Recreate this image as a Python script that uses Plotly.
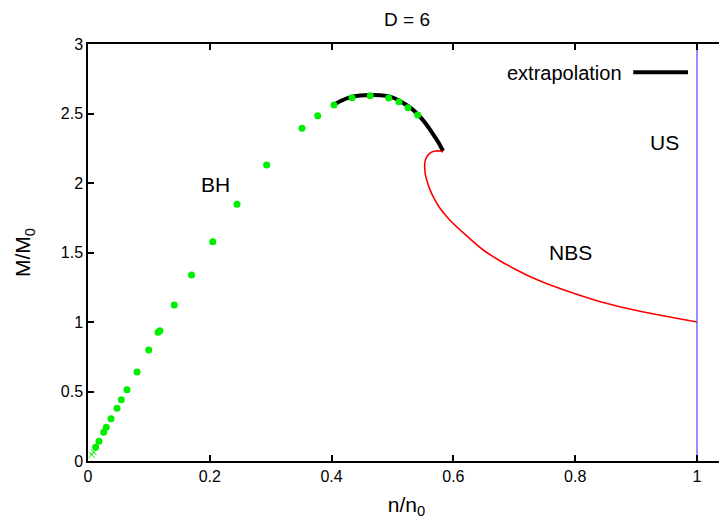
import plotly.graph_objects as go

# black hole points (green dots)
bh_x = [0.0126, 0.018, 0.0258, 0.030, 0.0378, 0.0476, 0.0547, 0.064, 0.0805, 0.0997,
        0.115, 0.118, 0.1417, 0.170, 0.2048, 0.2447, 0.2934, 0.3514, 0.3772, 0.404,
        0.4335, 0.4635, 0.4938, 0.5107, 0.5255, 0.5414]
bh_y = [0.099, 0.142, 0.206, 0.242, 0.304, 0.379, 0.441, 0.513, 0.640, 0.799,
        0.926, 0.937, 1.122, 1.338, 1.578, 1.847, 2.129, 2.394, 2.484, 2.561,
        2.614, 2.628, 2.612, 2.585, 2.542, 2.489]

# small crosses near the origin
cross_x = [0.006, 0.009]
cross_y = [0.045, 0.065]

# extrapolation of the BH branch
ext_x = [0.400, 0.415, 0.430, 0.447, 0.463, 0.480, 0.496, 0.510, 0.523, 0.535, 0.545, 0.555, 0.564, 0.574, 0.583]
ext_y = [2.554, 2.590, 2.616, 2.629, 2.633, 2.631, 2.621, 2.596, 2.561, 2.522, 2.477, 2.425, 2.369, 2.302, 2.230]

# non-uniform black string branch
nbs_x = [0.583, 0.578, 0.571, 0.564, 0.559, 0.555, 0.553, 0.553, 0.554, 0.557, 0.561,
         0.567, 0.578, 0.594, 0.622, 0.649, 0.677, 0.704, 0.731, 0.759, 0.800,
         0.841, 0.882, 0.923, 0.962, 1.0]
nbs_y = [2.223, 2.230, 2.230, 2.222, 2.204, 2.178, 2.145, 2.105, 2.060, 2.010, 1.958,
         1.900, 1.818, 1.734, 1.619, 1.518, 1.439, 1.374, 1.316, 1.266, 1.203,
         1.146, 1.101, 1.063, 1.030, 1.0]

# uniform string
us_x = [1.0, 1.0]
us_y = [0.0, 3.0]

labels = ['BH', 'NBS', 'US']
label_x = [0.209, 0.793, 0.947]
label_y = [1.99, 1.50, 2.29]

font = 'Liberation Sans, Arial, sans-serif'

fig = go.Figure()
fig.add_trace(go.Scatter(x=ext_x, y=ext_y, mode='lines', name='extrapolation',
                         line=dict(color='black', width=4, shape='spline')))
fig.add_trace(go.Scatter(x=nbs_x, y=nbs_y, mode='lines', name='NBS',
                         line=dict(color='#ff0000', width=1.6, shape='spline', smoothing=0.8)))
fig.add_trace(go.Scatter(x=us_x, y=us_y, mode='lines', name='US',
                         line=dict(color='#4a4aff', width=1.2)))
fig.add_trace(go.Scatter(x=bh_x, y=bh_y, mode='markers', name='BH',
                         marker=dict(color='#00ee00', size=7)))
fig.add_trace(go.Scatter(x=cross_x, y=cross_y, mode='markers', name='cross',
                         marker=dict(color='#00ee00', size=6, symbol='x-thin',
                                     line=dict(color='#00ee00', width=1))))

for t, x, y in zip(labels, label_x, label_y):
    fig.add_annotation(x=x, y=y, text=t, showarrow=False,
                       font=dict(size=21, color='black', family=font))

# gnuplot style key: text then line sample
fig.add_annotation(x=0.842, y=0.930, xref='paper', yref='paper', text='extrapolation',
                   showarrow=False, xanchor='right', yanchor='middle',
                   font=dict(size=20, color='black', family=font))
fig.add_shape(type='line', xref='paper', yref='paper', x0=0.856, x1=0.942, y0=0.932, y1=0.932,
              line=dict(color='black', width=4))

axis_common = dict(showline=True, linecolor='black', linewidth=1.5, mirror='ticks',
                   ticks='inside', ticklen=6, tickcolor='black', tickwidth=1.5,
                   showgrid=False, zeroline=False, automargin=False,
                   tickfont=dict(size=16, color='black', family=font))

# the page body keeps its default 8px margin, so the figure is 8px smaller
fig.update_layout(
    width=719,
    height=514,
    showlegend=False,
    plot_bgcolor='white',
    paper_bgcolor='white',
    margin=dict(l=80, r=2, t=36, b=61, autoexpand=False),
    title=dict(text='D = 6', x=0.555, xanchor='center', y=0.978, yanchor='middle',
               font=dict(size=19, color='black', family=font)),
    xaxis=dict(range=[0, 1.046], tickvals=[0, 0.2, 0.4, 0.6, 0.8, 1],
               ticktext=['0', '0.2', '0.4', '0.6', '0.8', '1'],
               title=dict(text='n/n<sub>0</sub>', standoff=13,
                          font=dict(size=21, color='black', family=font)),
               **axis_common),
    yaxis=dict(range=[0, 3], tickvals=[0, 0.5, 1, 1.5, 2, 2.5, 3],
               ticktext=['0', '0.5', '1', '1.5', '2', '2.5', '3'],
               title=dict(text='M/M<sub>0</sub>', standoff=24,
                          font=dict(size=21, color='black', family=font)),
               **axis_common),
)

fig.write_html("out.html")
